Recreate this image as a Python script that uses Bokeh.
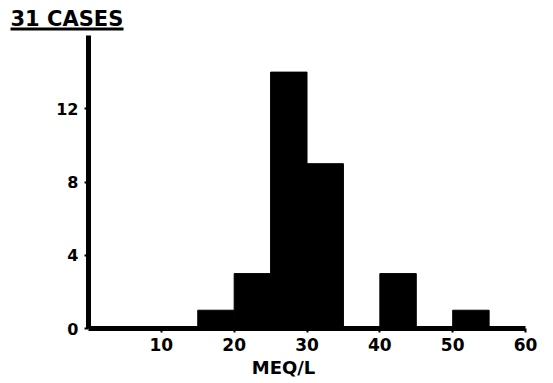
from bokeh.plotting import figure
from bokeh.models import Range1d, FixedTicker, Label, BoxAnnotation
from bokeh.embed import file_html
from bokeh.resources import INLINE

# data (31 cases)
bin_left = [15, 20, 25, 30, 35, 40, 45, 50]
bin_right = [20, 25, 30, 35, 40, 45, 50, 55]
counts = [1, 3, 14, 9, 0, 3, 0, 1]
x_ticks = [10, 20, 30, 40, 50, 60]
y_ticks = [0, 4, 8, 12]
title_text = "31 CASES"
x_label = "MEQ/L"

FONT = "DejaVu Sans"
W, H = 553, 383

# frame covers the whole figure; axes are pinned at data 0
p = figure(width=W, height=H, output_backend="svg", toolbar_location=None,
           x_range=Range1d(-12.08, 63.84), y_range=Range1d(-3.00, 17.91),
           min_border=0)
p.min_border_left = 0
p.min_border_right = 0
p.min_border_top = 0
p.min_border_bottom = 0
p.outline_line_color = None
p.grid.visible = False
p.background_fill_color = "white"
p.border_fill_color = "white"

p.quad(left=bin_left, right=bin_right, bottom=0, top=counts,
       fill_color="black", line_color="black", line_width=1)

for ax in (p.xaxis[0], p.yaxis[0]):
    ax.fixed_location = 0
    ax.axis_line_width = 5
    ax.axis_line_color = "black"
    ax.major_tick_line_width = 2
    ax.major_tick_in = 0
    ax.major_tick_out = 4
    ax.minor_tick_line_color = None
    ax.major_label_text_font = FONT
    ax.major_label_text_font_style = "bold"
    ax.major_label_text_color = "black"

p.xaxis[0].bounds = (0, 60)
p.xaxis[0].ticker = FixedTicker(ticks=x_ticks)
p.xaxis[0].major_label_text_font_size = "17px"
p.xaxis[0].major_label_standoff = 5
p.yaxis[0].bounds = (0, 16)
p.yaxis[0].ticker = FixedTicker(ticks=y_ticks)
p.yaxis[0].major_label_text_font_size = "16px"
p.yaxis[0].major_label_standoff = 6

title = Label(x=10, y=H - 18, x_units="screen", y_units="screen", text=title_text,
              text_font=FONT, text_font_style="bold", text_font_size="21px",
              text_color="black", text_align="left", text_baseline="alphabetic")
p.add_layout(title)
underline = BoxAnnotation(left=10, right=123, bottom=H - 30, top=H - 27,
                          left_units="screen", right_units="screen",
                          bottom_units="screen", top_units="screen",
                          fill_color="black", fill_alpha=1, line_color=None)
p.add_layout(underline)

xl = Label(x=283, y=16, x_units="screen", y_units="screen", text=x_label,
           text_font=FONT, text_font_style="bold", text_font_size="18px",
           text_color="black", text_align="center", text_baseline="alphabetic")
p.add_layout(xl)

open("out.html", "w").write(file_html(p, INLINE))
